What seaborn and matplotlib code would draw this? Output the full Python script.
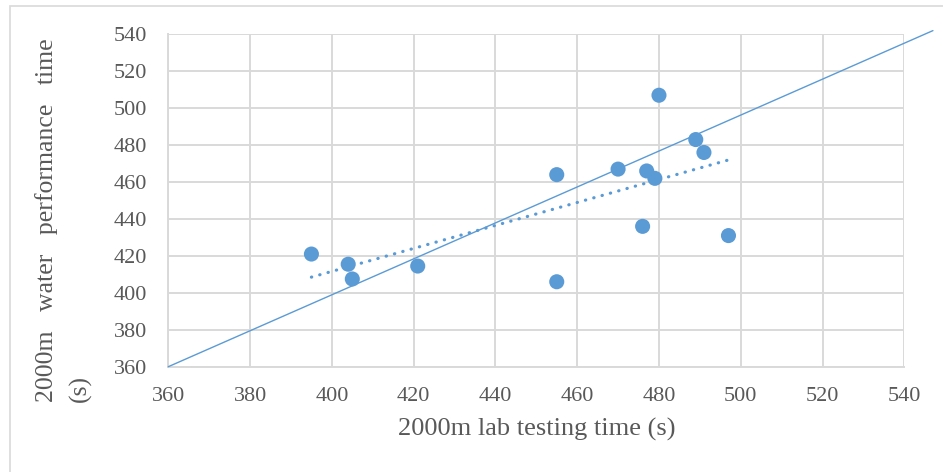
import matplotlib
matplotlib.use("Agg")
import matplotlib.pyplot as plt
import seaborn as sns
import pandas as pd
from matplotlib.patches import Rectangle

# Data
lab_time = [395, 404, 405, 421, 455, 455, 470, 476, 477, 479, 480, 489, 491, 497]
water_time = [421, 415.5, 407.5, 414.5, 464, 406, 467, 436, 466, 462, 507, 483, 476, 431]
ticks = [360, 380, 400, 420, 440, 460, 480, 500, 520, 540]
ref_line_x = [360, 547]
ref_line_y = [360, 542]

df = pd.DataFrame({"lab": lab_time, "water": water_time})

sns.set_theme(style="white")
plt.rcParams["font.family"] = ["Liberation Serif", "DejaVu Serif"]

W, H = 943, 472
fig = plt.figure(figsize=(W / 100, H / 100), dpi=100)
ax = fig.add_axes([168.3 / W, 1 - 366.7 / H, (904.3 - 168.3) / W, (366.7 - 34.3) / H])

blue = "#5B9BD5"
grid = "#D9D9D9"
txt = "#595959"

sns.scatterplot(data=df, x="lab", y="water", ax=ax, s=118, color=blue,
                edgecolor="none", linewidth=0, zorder=4)
sns.regplot(data=df, x="lab", y="water", ax=ax, scatter=False, ci=None,
            line_kws=dict(color=blue, lw=2.3, linestyle=(0, (0.1, 2.6)),
                          dash_capstyle="round", zorder=3))
ax.plot(ref_line_x, ref_line_y, color=blue, lw=1.0, clip_on=False, zorder=3)

ax.set_xlim(360, 540)
ax.set_ylim(360, 540)
ax.set_xticks(ticks)
ax.set_yticks(ticks)
ax.set_xticklabels([str(t) for t in ticks])
ax.set_yticklabels([str(t) for t in ticks])
ax.tick_params(axis="both", length=0, labelsize=16, colors=txt)
ax.tick_params(axis="y", pad=15)
ax.tick_params(axis="x", pad=14.5)
ax.grid(True, color=grid, lw=1.4)
ax.set_axisbelow(True)
for s in ["top", "right"]:
    ax.spines[s].set_visible(False)
for s in ["left", "bottom"]:
    ax.spines[s].set_color(grid)
    ax.spines[s].set_linewidth(1.4)

ax.set_xlabel("")
ax.set_ylabel("")
ax.set_xlabel("2000m lab testing time (s)", fontsize=19, color=txt, labelpad=9)

fig.text(46.7 / W, 1 - 401.7 / H, "2000m   water   performance   time",
         rotation=90, fontsize=18.5, color=txt, ha="center", va="bottom")
fig.text(80 / W, 1 - 401.7 / H, "(s)", rotation=90, fontsize=18.5, color=txt,
         ha="center", va="bottom")

fig.patches.append(Rectangle((9.5 / W, -0.1), 1.2, 1.1 - 5.5 / H,
                             transform=fig.transFigure, fill=False,
                             edgecolor=grid, lw=1.2))

fig.savefig("out.png", dpi=100)
